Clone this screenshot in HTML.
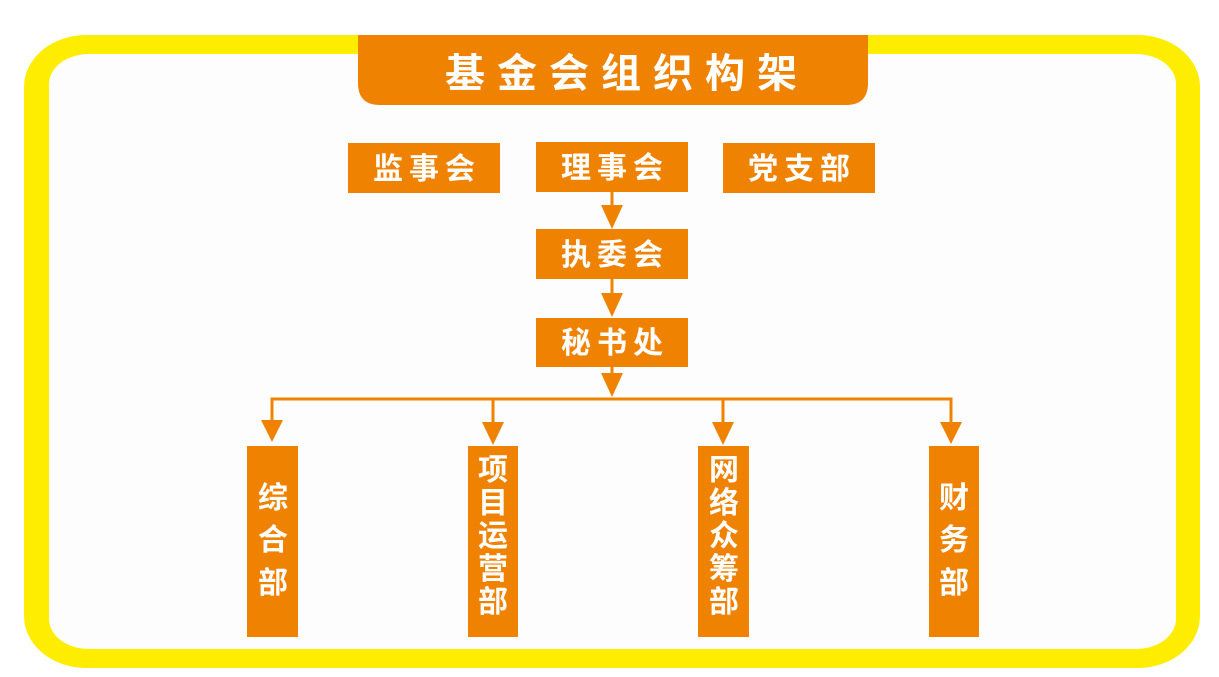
<!DOCTYPE html>
<html><head><meta charset="utf-8"><style>
html,body{margin:0;padding:0;background:#fff;}
svg{display:block;}
text{font-family:"Liberation Sans","Noto Sans CJK SC",sans-serif;font-weight:bold;fill:#fff;}
</style></head><body>
<svg width="1219" height="677" viewBox="0 0 1219 677" xmlns="http://www.w3.org/2000/svg">
<rect x="0" y="0" width="1219" height="677" fill="#ffffff"/>
<rect x="24" y="35" width="1176" height="633" rx="62" ry="52" fill="#ffed00"/>
<rect x="49" y="54" width="1127" height="595" rx="40" ry="30" fill="#fdfdfd"/>
<path d="M358 35 H868 V83 Q868 105 846 105 H380 Q358 105 358 83 Z" fill="#ef8200"/>
<text x="627" y="87" font-size="40" text-anchor="middle" letter-spacing="12">基金会组织构架</text>
<g fill="#ef8200">
<rect x="348" y="143" width="152" height="50"/>
<rect x="536" y="142" width="152" height="50"/>
<rect x="723" y="143" width="152" height="50"/>
<rect x="536" y="229" width="152" height="50"/>
<rect x="536" y="318" width="152" height="49"/>
<rect x="247" y="446" width="51" height="191"/>
<rect x="468" y="446" width="50" height="191"/>
<rect x="698" y="446" width="51" height="191"/>
<rect x="929" y="446" width="50" height="191"/>
</g>
<g font-size="30" text-anchor="middle" letter-spacing="6">
<text x="427" y="179">监事会</text>
<text x="615" y="178">理事会</text>
<text x="802" y="179">党支部</text>
<text x="615" y="265">执委会</text>
<text x="615" y="353">秘书处</text>
</g>
<g stroke="#ef8200" stroke-width="3" fill="none">
<line x1="612" y1="192" x2="612" y2="210"/>
<line x1="612" y1="279" x2="612" y2="298"/>
<line x1="612" y1="367" x2="612" y2="378"/>
<polyline points="272,422 272,399 951,399 951,422"/>
<line x1="493" y1="399" x2="493" y2="424"/>
<line x1="723" y1="399" x2="723" y2="424"/>
</g>
<g fill="#ef8200">
<polygon points="601,205 623,205 612,229"/>
<polygon points="601,293 623,293 612,317"/>
<polygon points="601,373 623,373 612,397"/>
<polygon points="261,420 283,420 272,442"/>
<polygon points="482,422 504,422 493,445"/>
<polygon points="712,422 734,422 723,445"/>
<polygon points="940,422 962,422 951,444"/>
</g>
<g font-size="30" text-anchor="middle">
<text x="273" y="508">综</text><text x="273" y="550">合</text><text x="273" y="593">部</text>
<text x="493" y="480">项</text><text x="493" y="513">目</text><text x="493" y="546">运</text><text x="493" y="579">营</text><text x="493" y="612">部</text>
<text x="724" y="480">网</text><text x="724" y="513">络</text><text x="724" y="546">众</text><text x="724" y="579">筹</text><text x="724" y="612">部</text>
<text x="954" y="508">财</text><text x="954" y="550">务</text><text x="954" y="593">部</text>
</g>
</svg>
</body></html>
